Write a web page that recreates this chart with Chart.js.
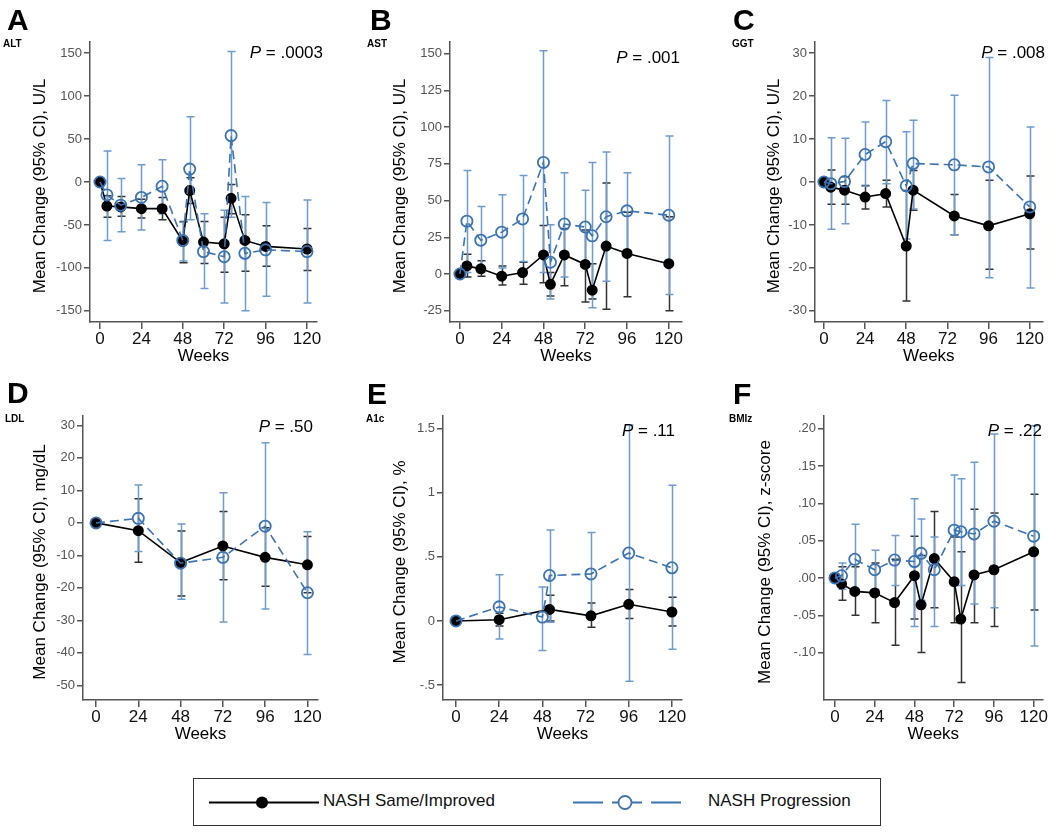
<!DOCTYPE html>
<html><head><meta charset="utf-8">
<script src="https://cdn.jsdelivr.net/npm/chart.js@4.4.1/dist/chart.umd.min.js"></script>
<style>
html,body{margin:0;padding:0;background:#fff;width:1050px;height:833px;overflow:hidden;font-family:"Liberation Sans",Arial,sans-serif;}
canvas.pan{position:absolute;}
#legend{position:absolute;left:193px;top:778px;width:688px;height:48px;border:1px solid #333;box-sizing:border-box;}
#legend span{position:absolute;top:12px;font-size:17px;color:#111;white-space:nowrap;}
#legend svg{position:absolute;left:0;top:0;}
</style></head><body>
<canvas id="cA" class="pan" width="350" height="370" style="left:0;top:0"></canvas>
<canvas id="cB" class="pan" width="350" height="370" style="left:350px;top:0"></canvas>
<canvas id="cC" class="pan" width="350" height="370" style="left:700px;top:0"></canvas>
<canvas id="cD" class="pan" width="350" height="390" style="left:0;top:370px"></canvas>
<canvas id="cE" class="pan" width="350" height="390" style="left:350px;top:370px"></canvas>
<canvas id="cF" class="pan" width="350" height="390" style="left:700px;top:370px"></canvas>
<div id="legend">
<svg width="688" height="48">
<line x1="15" y1="23.5" x2="125" y2="23.5" stroke="#000" stroke-width="1.8"/>
<circle cx="68" cy="23.5" r="6" fill="#000"/>
<line x1="379" y1="23.5" x2="492" y2="23.5" stroke="#3b73b3" stroke-width="1.8" stroke-dasharray="30,9"/>
<circle cx="431" cy="23.5" r="6.5" fill="#fff" stroke="#3b73b3" stroke-width="1.8"/>
</svg>
<span style="left:129px">NASH Same/Improved</span>
<span style="left:514px">NASH Progression</span>
</div>
<script>
const seriesNames = ['NASH Same/Improved', 'NASH Progression'];
const xTickValues = [0, 24, 48, 72, 96, 120];

// Panel A - ALT
const altWeeks = [0, 4, 12, 24, 36, 48, 52, 60, 72, 76, 84, 96, 120];
const altSameMean = [0, -28, -29, -31, -31, -69, -10, -70, -72, -19, -68, -75, -78];
const altSameLo   = [0, -41, -40, -42, -44, -94, -25, -95, -105, -37, -104, -98, -103];
const altSameHi   = [0, -16, -17, -20, -18, -46, 5, -46, -41, -3, -38, -51, -54];
const altProgMean = [0, -15, -27, -18, -5, -68, 15, -81, -87, 54, -83, -79, -81];
const altProgLo   = [0, -68, -58, -56, -37, -92, -44, -124, -141, -41, -150, -133, -141];
const altProgHi   = [0, 36, 4, 20, 26, -47, 76, -37, -33, 152, -17, -24, -21];
const altTicks = [-150, -100, -50, 0, 50, 100, 150];
const altTickLabels = ['-150', '-100', '-50', '0', '50', '100', '150'];

// Panel B - AST
const astWeeks = [0, 4, 12, 24, 36, 48, 52, 60, 72, 76, 84, 96, 120];
const astSameMean = [0, 5.5, 3.5, -1.5, 1, 13, -7, 13, 6.5, -11, 19, 14, 7];
const astSameLo   = [0, -2, -1.5, -7.5, -7, -6, -15, -8, -19, -17, -24, -15.5, -25];
const astSameHi   = [0, 13.5, 9, 5.5, 8, 33, 1, 31, 30, 7, 62, 42, 39];
const astProgMean = [0, 36, 23, 28.5, 37.5, 76, 8, 34, 32, 26, 39, 43, 40];
const astProgLo   = [0, 1, 1, 4, 8.5, 1, -17, -2, 8, -23, -5, 16, -14];
const astProgHi   = [0, 70.5, 46, 54, 67, 152, 33.5, 69, 57, 76, 83, 69, 94];
const astTicks = [-25, 0, 25, 50, 75, 100, 125, 150];
const astTickLabels = ['-25', '0', '25', '50', '75', '100', '125', '150'];

// Panel C - GGT
const ggtWeeks = [0, 4, 12, 24, 36, 48, 52, 76, 96, 120];
const ggtSameMean = [0, -1.2, -1.9, -3.5, -2.7, -14.9, -1.9, -7.9, -10.2, -7.4];
const ggtSameLo   = [0, -5.2, -5.2, -6.3, -5.8, -27.7, -6.6, -12.3, -20.3, -15.6];
const ggtSameHi   = [0, 2.8, 1.2, -0.8, 0.4, -2, 2.7, -2.9, 0.4, 1.4];
const ggtProgMean = [0, -0.4, 0.1, 6.4, 9.4, -0.9, 4.3, 4.0, 3.5, -5.8];
const ggtProgLo   = [0, -11, -9.7, -1, -0.4, -13.3, -6.3, -12.3, -22.3, -24.7];
const ggtProgHi   = [0, 10.3, 10.2, 14, 19, 11.7, 14.4, 20.2, 29, 12.8];
const ggtTicks = [-30, -20, -10, 0, 10, 20, 30];
const ggtTickLabels = ['-30', '-20', '-10', '0', '10', '20', '30'];

// Panel D - LDL
const ldlWeeks = [0, 24, 48, 72, 96, 120];
const ldlSameMean = [0, -2.4, -12.2, -7.1, -10.6, -12.9];
const ldlSameLo   = [0, -12.1, -22.5, -17.5, -19.5, -21.5];
const ldlSameHi   = [0, 7.4, -2.5, 3.5, -1.5, -4.2];
const ldlProgMean = [0, 1.4, -12.4, -10.6, -1, -21.5];
const ldlProgLo   = [0, -8.8, -23.5, -30.5, -26.5, -40.5];
const ldlProgHi   = [0, 11.7, -0.3, 9.3, 24.7, -2.7];
const ldlTicks = [-50, -40, -30, -20, -10, 0, 10, 20, 30];
const ldlTickLabels = ['-50', '-40', '-30', '-20', '-10', '0', '10', '20', '30'];

// Panel E - A1c
const a1cSameWeeks = [0, 24, 52, 75, 96, 120];
const a1cSameMean = [0, 0.01, 0.09, 0.04, 0.13, 0.07];
const a1cSameLo   = [0, -0.04, 0.0, -0.05, 0.02, -0.04];
const a1cSameHi   = [0, 0.06, 0.2, 0.14, 0.245, 0.185];
const a1cProgWeeks = [0, 24, 48, 52, 75, 96, 120];
const a1cProgMean = [0, 0.11, 0.03, 0.355, 0.367, 0.53, 0.415];
const a1cProgLo   = [0, -0.14, -0.23, -0.01, 0.04, -0.47, -0.22];
const a1cProgHi   = [0, 0.36, 0.265, 0.71, 0.69, 1.53, 1.06];
const a1cTicks = [-0.5, 0, 0.5, 1, 1.5];
const a1cTickLabels = ['-.5', '0', '.5', '1', '1.5'];

// Panel F - BMIz
const bmizWeeks = [0, 4, 12, 24, 36, 48, 52, 60, 72, 76, 84, 96, 120];
const bmizSameMean = [0, -0.008, -0.018, -0.02, -0.033, 0.003, -0.036, 0.026, -0.005, -0.055, 0.004, 0.011, 0.035];
const bmizSameLo   = [0, -0.03, -0.05, -0.06, -0.09, -0.055, -0.1, -0.04, -0.06, -0.14, -0.06, -0.065, -0.043];
const bmizSameHi   = [0, 0.015, 0.015, 0.02, 0.025, 0.056, 0.03, 0.089, 0.055, 0.035, 0.092, 0.087, 0.112];
const bmizProgMean = [0, 0.003, 0.025, 0.011, 0.024, 0.022, 0.033, 0.011, 0.064, 0.062, 0.059, 0.076, 0.056];
const bmizProgLo   = [0, -0.015, -0.02, -0.015, -0.01, -0.065, -0.03, -0.065, -0.01, -0.01, -0.035, -0.04, -0.091];
const bmizProgHi   = [0, 0.02, 0.072, 0.037, 0.057, 0.106, 0.079, 0.055, 0.138, 0.133, 0.155, 0.193, 0.204];
const bmizTicks = [-0.10, -0.05, 0, 0.05, 0.10, 0.15, 0.20];
const bmizTickLabels = ['-.10', '-.05', '.00', '.05', '.10', '.15', '.20'];

const BLACK = '#000000', BLACK_BAR = '#333333';
const BLUE = '#3b73b3', BLUE_BAR = '#6d9cd0';
const FONT = '"Liberation Sans", Arial, sans-serif';

const panels = [
  {id:'cA', ox:0, oy:0, area:[90,42,317,322], xr:[-5.8,125.8], yr:[-163,163], yt:altTicks, yl:altTickLabels,
   letter:'A', lpos:[7,30], sub:'ALT', spos:[3,47], p:'.0003', ppos:[323,58], title:'Mean Change (95% CI), U/L', tx:40,
   s:[[altWeeks,altSameMean,altSameLo,altSameHi],[altWeeks,altProgMean,altProgLo,altProgHi]]},
  {id:'cB', ox:350, oy:0, area:[450,42,682,322], xr:[-5.7,127.6], yr:[-32.7,158], yt:astTicks, yl:astTickLabels,
   letter:'B', lpos:[370,30], sub:'AST', spos:[367,47], p:'.001', ppos:[680,63], title:'Mean Change (95% CI), U/L', tx:400,
   s:[[astWeeks,astSameMean,astSameLo,astSameHi],[astWeeks,astProgMean,astProgLo,astProgHi]]},
  {id:'cC', ox:700, oy:0, area:[815,42,1045,322], xr:[-5.2,127.5], yr:[-32.6,32.6], yt:ggtTicks, yl:ggtTickLabels,
   letter:'C', lpos:[733,30], sub:'GGT', spos:[732,47], p:'.008', ppos:[1045,58], title:'Mean Change (95% CI), U/L', tx:774,
   s:[[ggtWeeks,ggtSameMean,ggtSameLo,ggtSameHi],[ggtWeeks,ggtProgMean,ggtProgLo,ggtProgHi]]},
  {id:'cD', ox:0, oy:370, area:[83,416,318,700], xr:[-7.4,126], yr:[-54.5,32.9], yt:ldlTicks, yl:ldlTickLabels,
   letter:'D', lpos:[7,403], sub:'LDL', spos:[5,422], p:'.50', ppos:[313,432], title:'Mean Change (95% CI), mg/dL', tx:40,
   s:[[ldlWeeks,ldlSameMean,ldlSameLo,ldlSameHi],[ldlWeeks,ldlProgMean,ldlProgLo,ldlProgHi]]},
  {id:'cE', ox:350, oy:370, area:[443,416,682,700], xr:[-7.2,125.6], yr:[-0.617,1.6], yt:a1cTicks, yl:a1cTickLabels,
   letter:'E', lpos:[367,404], sub:'A1c', spos:[366,422], p:'.11', ppos:[675,436], title:'Mean Change (95% CI), %', tx:400,
   s:[[a1cSameWeeks,a1cSameMean,a1cSameLo,a1cSameHi],[a1cProgWeeks,a1cProgMean,a1cProgLo,a1cProgHi]]},
  {id:'cF', ox:700, oy:370, area:[824,416,1046,700], xr:[-6.6,125.4], yr:[-0.1635,0.217], yt:bmizTicks, yl:bmizTickLabels,
   letter:'F', lpos:[733,404], sub:'BMIz', spos:[729,422], p:'.22', ppos:[1042,436], title:'Mean Change (95% CI), z-score', tx:765,
   s:[[bmizWeeks,bmizSameMean,bmizSameLo,bmizSameHi],[bmizWeeks,bmizProgMean,bmizProgLo,bmizProgHi]]}
];

const errorBarPlugin = {
  id: 'errorBars',
  beforeDatasetsDraw(chart) {
    const {ctx, scales} = chart;
    const xs = scales.x, ys = scales.y;
    chart.data.datasets.forEach(ds => {
      ctx.save();
      ctx.strokeStyle = ds.errColor;
      ctx.lineWidth = 1.5;
      ds.data.forEach((pt, k) => {
        const lo = ds.errLo[k], hi = ds.errHi[k];
        if (lo === hi) return;
        const px = Math.round(xs.getPixelForValue(pt.x)) + 0.5;
        const y1 = ys.getPixelForValue(lo), y2 = ys.getPixelForValue(hi);
        ctx.beginPath();
        ctx.moveTo(px, y1); ctx.lineTo(px, y2);
        ctx.moveTo(px - 4, y1); ctx.lineTo(px + 4, y1);
        ctx.moveTo(px - 4, y2); ctx.lineTo(px + 4, y2);
        ctx.stroke();
      });
      ctx.restore();
    });
  }
};

const textPlugin = {
  id: 'panelText',
  afterDraw(chart) {
    const cfg = chart.options.plugins.panelText;
    const {ctx, chartArea} = chart;
    const ox = cfg.ox, oy = cfg.oy;
    ctx.save();
    ctx.fillStyle = '#000';
    ctx.textBaseline = 'alphabetic';
    ctx.textAlign = 'left';
    ctx.font = 'bold 30px ' + FONT;
    ctx.fillText(cfg.letter, cfg.lpos[0] - ox, cfg.lpos[1] - oy);
    ctx.font = 'bold 10px ' + FONT;
    ctx.fillText(cfg.sub, cfg.spos[0] - ox, cfg.spos[1] - oy);
    ctx.font = '17px ' + FONT;
    const rest = ' = ' + cfg.p;
    const wr = ctx.measureText(rest).width;
    ctx.font = 'italic 17px ' + FONT;
    const wp = ctx.measureText('P').width;
    const right = cfg.ppos[0] - ox;
    ctx.fillText('P', right - wr - wp, cfg.ppos[1] - oy);
    ctx.font = '17px ' + FONT;
    ctx.fillText(rest, right - wr, cfg.ppos[1] - oy);
    ctx.save();
    ctx.translate(cfg.tx - ox, (chartArea.top + chartArea.bottom) / 2 + 4);
    ctx.rotate(-Math.PI / 2);
    ctx.textAlign = 'center';
    ctx.textBaseline = 'middle';
    ctx.font = '17px ' + FONT;
    ctx.fillText(cfg.title, 0, 0);
    ctx.restore();
    ctx.textAlign = 'center';
    ctx.textBaseline = 'middle';
    ctx.font = '17px ' + FONT;
    ctx.fillText('Weeks', (chartArea.left + chartArea.right) / 2, chartArea.bottom + 34);
    ctx.restore();
  }
};

panels.forEach(p => {
  const canvas = document.getElementById(p.id);
  const cw = canvas.width, ch = canvas.height;
  const [L, T, R, B] = p.area;
  const styles = [
    {borderColor: BLACK, borderDash: [], pointRadius: 4.6, pointBackgroundColor: BLACK, pointBorderColor: BLACK, errColor: BLACK_BAR, order: 1},
    {borderColor: BLUE, borderDash: [9, 5], pointRadius: 5.6, pointBackgroundColor: 'rgba(0,0,0,0)', pointBorderColor: BLUE, errColor: BLUE_BAR, order: 0}
  ];
  const datasets = p.s.map((ser, i) => {
    const [wk, mean, lo, hi] = ser;
    const st = styles[i];
    return {
      label: seriesNames[i],
      data: wk.map((w, k) => ({x: w, y: mean[k]})),
      errLo: lo, errHi: hi, errColor: st.errColor, order: st.order,
      borderColor: st.borderColor, borderWidth: 1.6, borderDash: st.borderDash,
      pointRadius: st.pointRadius, pointBackgroundColor: st.pointBackgroundColor,
      pointBorderColor: st.pointBorderColor, pointBorderWidth: 1.8,
      pointHoverRadius: st.pointRadius, tension: 0, clip: false, fill: false
    };
  });
  new Chart(canvas, {
    type: 'line',
    data: {datasets},
    options: {
      responsive: false, animation: false, devicePixelRatio: 1,
      layout: {padding: {top: T - p.oy, right: (p.ox + cw) - R, left: 0, bottom: 0}},
      plugins: {legend: {display: false}, tooltip: {enabled: false},
        panelText: {ox: p.ox, oy: p.oy, letter: p.letter, lpos: p.lpos, sub: p.sub, spos: p.spos,
          p: p.p, ppos: p.ppos, title: p.title, tx: p.tx}},
      scales: {
        x: {
          type: 'linear', min: p.xr[0], max: p.xr[1],
          afterBuildTicks: s => { s.ticks = xTickValues.map(v => ({value: v})); },
          afterFit: s => { s.height = (p.oy + ch) - B; },
          ticks: {color: '#111', font: {family: FONT, size: 17}, padding: 0, maxRotation: 0, autoSkip: false,
            callback: v => String(v)},
          grid: {display: true, drawOnChartArea: false, drawTicks: true, tickLength: 7, color: '#555', lineWidth: 1.5},
          border: {display: true, color: '#555', width: 1.5}
        },
        y: {
          type: 'linear', min: p.yr[0], max: p.yr[1],
          afterBuildTicks: s => { s.ticks = p.yt.map(v => ({value: v})); },
          afterFit: s => { s.width = L - p.ox; },
          ticks: {color: '#555', font: {family: FONT, size: 13}, padding: 2, autoSkip: false,
            callback: v => { const idx = p.yt.findIndex(t => Math.abs(t - v) < 1e-9); return idx >= 0 ? p.yl[idx] : ''; }},
          grid: {display: true, drawOnChartArea: false, drawTicks: true, tickLength: 6, color: '#555', lineWidth: 1.5},
          border: {display: true, color: '#555', width: 1.5}
        }
      }
    },
    plugins: [errorBarPlugin, textPlugin]
  });
});
</script>
</body></html>
